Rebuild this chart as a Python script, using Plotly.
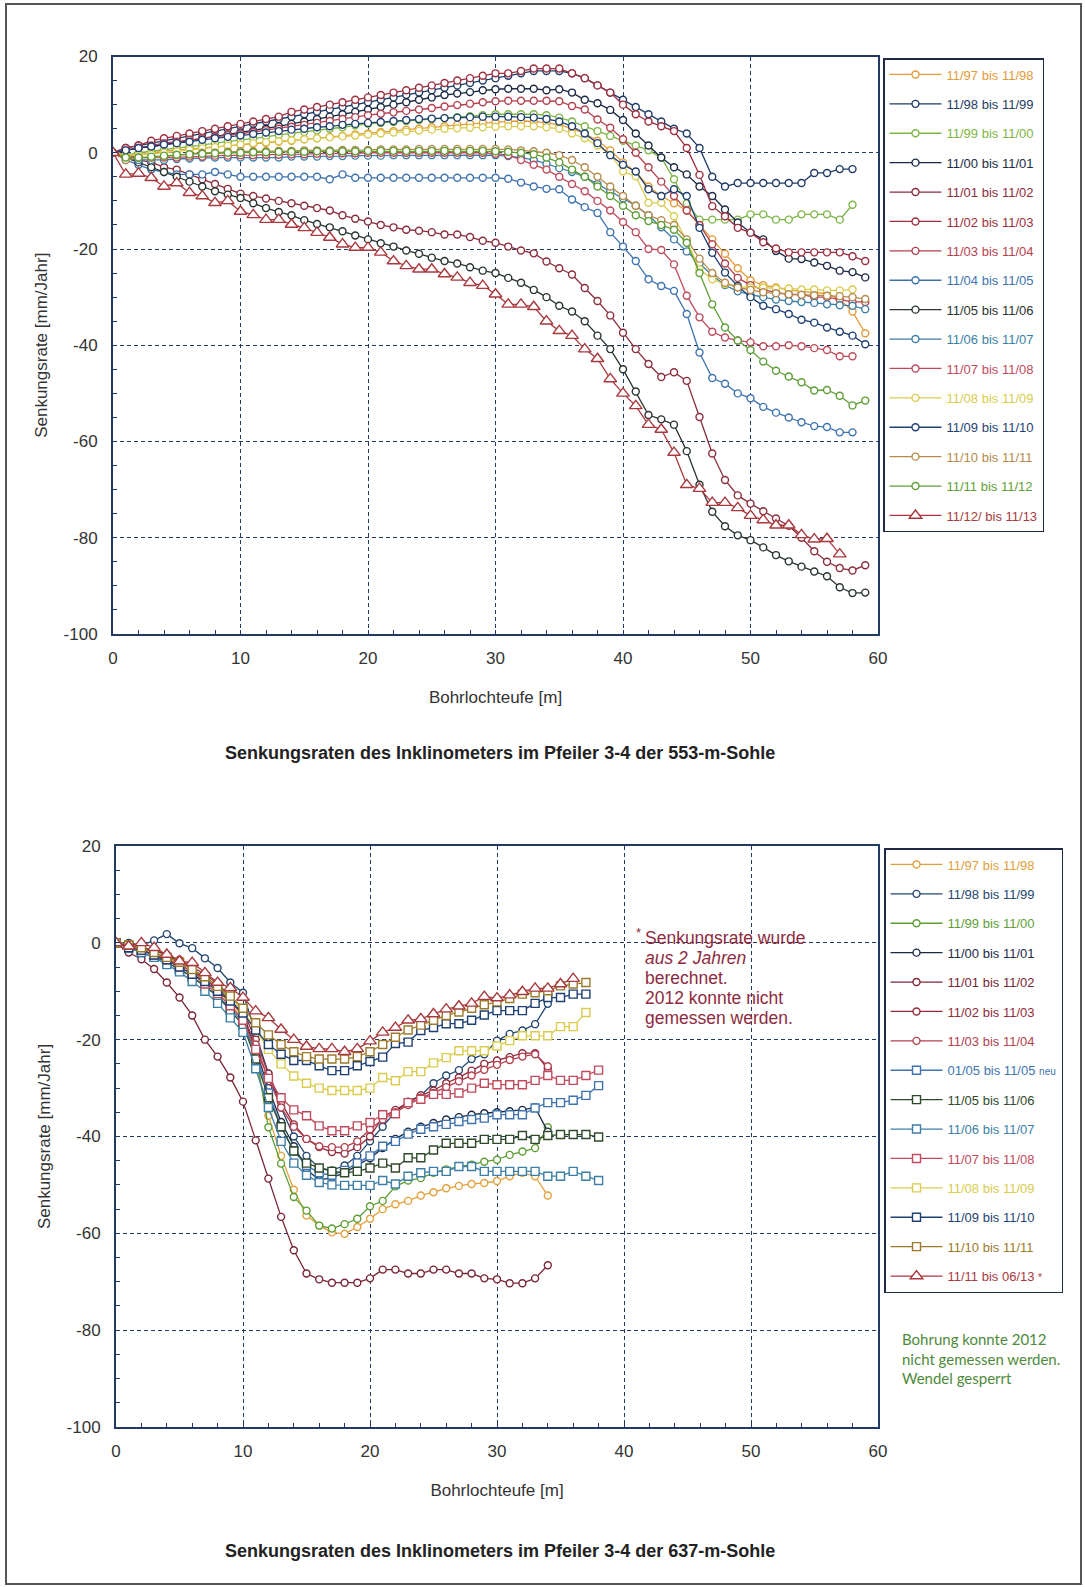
import plotly.graph_objects as go

# ---------------------------------------------------------------- data
# depth along the borehole [m], one reading per metre
DEPTH = list(range(0, 60))

# axis ticks
X_TICKS = [0, 10, 20, 30, 40, 50, 60]
Y_TICKS = [20, 0, -20, -40, -60, -80, -100]
Y_TICK_TEXT = ["20", "0", "-20", "-40", "-60", "-80", "-100"]

# 553-m-Sohle: subsidence rate [mm/Jahr] per measuring interval
LABELS_553 = ["11/97 bis 11/98", "11/98 bis 11/99", "11/99 bis 11/00", "11/00 bis 11/01",
              "11/01 bis 11/02", "11/02 bis 11/03", "11/03 bis 11/04", "11/04 bis 11/05",
              "11/05 bis 11/06", "11/06 bis 11/07", "11/07 bis 11/08", "11/08 bis 11/09",
              "11/09 bis 11/10", "11/10 bis 11/11", "11/11 bis 11/12", "11/12/ bis 11/13"]

R553_9798 = [0, -0.5, -0.5, 0, 0.3, 0.6, 0.8, 1, 1.2, 1.4, 1.6, 1.8, 2, 2.3, 2.5, 2.8, 3, 3.3, 3.5, 3.8,
             4, 4.3, 4.5, 4.8, 5, 5.3, 5.5, 5.8, 6, 6.2, 6.3, 6.5, 6.6, 6.5, 6.2, 5.8, 5, 4, 2.5, 0.5,
             -2, -4, -7, -9, -10.5, -12, -15, -18, -21, -24, -26.5, -27.5, -28, -28.5, -28.8, -29, -29.3, -30.4, -33, -37.5]
R553_9899 = [0, 1, 1.5, 2, 2.5, 3, 3.5, 4, 4.5, 5, 5.5, 6, 6.5, 7, 7.5, 8, 8.5, 9, 9.5, 10,
             10.5, 11, 11.5, 12, 12.5, 13, 13.5, 14, 14.5, 15, 15.5, 16, 16.5, 17, 17, 17, 16.5, 15.5, 14, 12.5,
             11, 9.5, 8, 6.5, 5, 4, 1, -5, -7, -6.3, -6.3, -6.3, -6.3, -6.3, -6.3, -4.2, -4.2, -3.4, -3.4]
R553_9900 = [0, -0.5, 0, 0.3, 0.6, 1, 1.3, 1.6, 2, 2.3, 2.7, 3, 3.3, 3.7, 4, 4.3, 4.6, 5, 5.3, 5.7,
             6, 6.2, 6.4, 6.6, 6.8, 7, 7.2, 7.4, 7.6, 7.8, 8, 8, 8, 8, 7.8, 7.3, 6.5, 5.5, 4.5, 3.5,
             2.5, 1.5, 0.5, -1, -5.5, -10.5, -13.9, -13.9, -13.9, -13.9, -12.8, -12.8, -13.9, -13.9, -12.8, -12.8, -12.8, -13.9, -10.8]
R553_0001 = [0, 0.5, 1, 1.3, 1.7, 2, 2.5, 3, 3.4, 3.8, 4.2, 4.6, 5, 5.5, 6, 6.5, 7, 7.5, 8, 8.5,
             9, 9.5, 10, 10.5, 11, 11.5, 12, 12.3, 12.6, 13, 13.2, 13.3, 13.3, 13.3, 13, 13.2, 12.5, 11, 10.3, 8.9,
             6.8, 4, 1.5, -1, -3, -4.5, -7, -9, -11.8, -14.5, -16.6, -18, -20.4, -22, -22.1, -22.8, -23.5, -24.5, -24.8, -25.9]
R553_0102 = [0, -1, -1.5, -2, -3, -3.5, -4.5, -5.5, -6.5, -7.5, -8.5, -9, -9.5, -10, -10.5, -11, -11.5, -12, -13, -13.7,
             -14.3, -15, -15.5, -16, -16.2, -16.5, -17, -17, -17.5, -18.3, -18.7, -19.5, -20.3, -20.9, -22.6, -24, -25.3, -28.1, -30.8, -33.8,
             -37.4, -40.8, -43.9, -46.6, -45.6, -47.4, -54.9, -62.5, -68, -71.2, -72.9, -74.5, -76, -77.5, -80, -82.8, -85, -86.3, -86.8, -85.7]
R553_0203 = [0, 1, 1.5, 2.5, 3, 3.5, 4, 4.5, 5, 5.5, 6, 6.5, 7, 7.5, 8.5, 9, 9.5, 10, 10.5, 11,
             11.5, 12, 12.5, 13, 13.5, 14, 14.5, 15, 15.5, 16, 16.5, 16.5, 17, 17.5, 17.5, 17.5, 16.5, 15.5, 14, 12.5,
             10, 8, 6.5, 5.5, 4.5, 1, -4.6, -11.1, -13.2, -15.6, -16.6, -18.6, -19.9, -20.7, -20.7, -20.7, -20.7, -20.7, -21.5, -22.5]
R553_0304 = [0, 0.5, 1, 1.5, 2, 2.3, 2.7, 3, 3.3, 3.7, 4, 4.3, 4.7, 5, 5.4, 5.8, 6.2, 6.6, 7, 7.4,
             7.8, 8.1, 8.4, 8.7, 9, 9.3, 9.6, 9.9, 10.2, 10.5, 10.7, 10.8, 10.8, 10.8, 10.8, 10.7, 9.7, 9, 6.9, 5.2,
             2.8, 0, -3, -6, -9, -12, -15, -19, -23, -26, -27.5, -28.5, -29, -29.5, -29.5, -30, -30, -30.5, -31, -31]
R553_0405 = [0, -1.5, -2.5, -3.5, -4, -4.5, -4.5, -4.5, -4, -4.5, -5, -5, -5, -5, -5, -5, -5, -5.5, -4.5, -5.2,
             -5.2, -5.2, -5.2, -5.2, -5.2, -5.2, -5.2, -5.2, -5.2, -5.2, -5.2, -5.4, -6.2, -7, -7.5, -7.6, -9.7, -11.3, -12.5, -16.5,
             -19.5, -22.5, -26.3, -27.7, -28.7, -33.5, -41.5, -46.8, -48, -50, -51, -52.8, -54, -55, -56, -56.8, -57, -58.1, -58.1]
R553_0506 = [0, -1, -2, -3, -4, -5, -6, -7, -8, -8.7, -9.4, -10.5, -11.5, -12.3, -13, -14, -14.8, -15.5, -16.3, -17.2,
             -18, -18.8, -19.5, -20.3, -21, -21.8, -22.5, -23, -23.8, -24.5, -25, -26, -27, -28.5, -30, -31.8, -33, -35, -38, -40.8,
             -45, -49.6, -54.5, -55.4, -56.5, -62, -69, -74.6, -77.6, -79.5, -80.5, -82, -83.6, -84.9, -86, -87, -88, -90.3, -91.5, -91.4]
R553_0607 = [0, -1, -1.5, -1.5, -1.5, -1.3, -1.2, -1, -1, -1, -1, -1, -1, -1, -0.8, -0.8, -0.8, -0.7, -0.7, -0.6,
             -0.6, -0.6, -0.5, -0.5, -0.5, -0.5, -0.5, -0.5, -0.5, -0.5, -0.5, -0.7, -1, -1.5, -2.3, -3.2, -4, -5, -6.5, -8,
             -9.5, -11, -13, -15.5, -18, -20.5, -23, -25.5, -27.5, -28.8, -29.5, -30, -30.5, -30.8, -31, -31.2, -31.5, -31.7, -31.8, -32.5]
R553_0708 = [0, -0.5, -1, -1, -1, -1, -0.8, -0.8, -0.6, -0.6, -0.5, -0.5, -0.4, -0.4, -0.3, -0.3, -0.2, -0.2, -0.1, -0.1,
             0, 0, 0, 0, 0, 0, 0, 0, 0, 0, -0.2, -0.5, -1.5, -2.5, -3.5, -5, -6.5, -8, -10, -12,
             -14.4, -16.5, -20, -20.2, -23.2, -29.7, -34.2, -37.2, -38.4, -39, -39.4, -40.2, -40.2, -40, -40.2, -40.6, -41, -42.3, -42.3]
R553_0809 = [0, -0.5, -0.5, -0.3, 0, 0.3, 0.6, 0.9, 1.2, 1.5, 1.7, 2, 2.2, 2.4, 2.6, 2.8, 3, 3.2, 3.4, 3.6,
             3.8, 4, 4.2, 4.4, 4.6, 4.8, 5, 5.1, 5.2, 5.3, 5.4, 5.5, 5.5, 5.5, 5.3, 5, 4, 3, 1.5, -0.4,
             -3.9, -4.9, -10.4, -10.4, -13.2, -18.4, -24.2, -26.3, -27.3, -27.8, -28, -28, -28.2, -28.2, -28.4, -28.4, -28.6, -28.6, -28.4]
R553_0910 = [0, 0.5, 1, 1.3, 1.7, 2, 2.3, 2.7, 3, 3.3, 3.6, 3.9, 4.2, 4.5, 4.8, 5, 5.3, 5.5, 5.8, 6,
             6.2, 6.4, 6.6, 6.8, 7, 7.1, 7.2, 7.3, 7.4, 7.5, 7.5, 7.5, 7.4, 7.3, 7, 6.5, 5.5, 4, 2, -0.5,
             -2.5, -3.9, -7.6, -9, -7.6, -9, -15.6, -20.8, -24.9, -27.7, -30, -31.8, -32.5, -33.5, -34.7, -35.3, -36.3, -37.2, -38, -39.8]
R553_1011 = [0, -1.5, -1, -1, -0.8, -0.5, -0.3, 0, 0, 0.2, 0.3, 0.3, 0.3, 0.4, 0.4, 0.5, 0.5, 0.5, 0.6, 0.6,
             0.6, 0.7, 0.7, 0.7, 0.8, 0.8, 0.8, 0.8, 0.8, 0.8, 0.8, 0.7, 0.5, 0.3, 0, -0.5, -1.5, -3, -5, -7,
             -9, -11, -13, -14, -15, -18, -22, -25, -27, -28, -28.5, -29, -29.2, -29.4, -29.5, -29.6, -29.7, -29.8, -30, -30.4]
R553_1112 = [0, -1, -1, -0.8, -0.6, -0.4, -0.3, -0.2, -0.1, 0, 0, 0.1, 0.1, 0.2, 0.2, 0.2, 0.3, 0.3, 0.3, 0.3,
             0.4, 0.4, 0.4, 0.4, 0.4, 0.4, 0.4, 0.4, 0.4, 0.4, 0.3, 0.2, 0, -0.3, -1, -2, -3.5, -5, -7, -9,
             -11, -13, -14.2, -15, -16, -18.7, -25, -31.5, -36.3, -39, -41, -43.4, -45.3, -46.5, -47.7, -49.4, -49.3, -50.5, -52.5, -51.5]
R553_1213 = [0, -4.5, -4.3, -5.2, -7, -6.3, -8.3, -9, -10.4, -10, -12.2, -12.9, -13.9, -13.9, -14.9, -15.6, -16.6, -17.6, -19, -19.7,
             -19.7, -20.7, -22.5, -23.5, -24.2, -24.2, -25.2, -25.9, -27, -27.6, -29.4, -31.5, -31.5, -32, -35, -37, -38, -40.8, -42.8, -47,
             -50, -52.6, -56.5, -57.5, -62.3, -69, -69.8, -72.7, -72.7, -73.8, -75.4, -76.3, -77.4, -77.4, -79.4, -80.3, -80.2, -83.4]

# 637-m-Sohle
LABELS_637 = ["11/97 bis 11/98", "11/98 bis 11/99", "11/99 bis 11/00", "11/00 bis 11/01",
              "11/01 bis 11/02", "11/02 bis 11/03", "11/03 bis 11/04", "01/05 bis 11/05",
              "11/05 bis 11/06", "11/06 bis 11/07", "11/07 bis 11/08", "11/08 bis 11/09",
              "11/09 bis 11/10", "11/10 bis 11/11", "11/11 bis 06/13"]

R637_9798 = [0, -0.5, -1, -2, -3, -4.5, -6, -8, -10, -12.5, -16, -24, -35.7, -44, -51, -56.3, -58.4, -59.8, -60.1, -58.7,
             -57, -55, -54, -53.3, -52.2, -51.5, -50.7, -50.2, -49.8, -49.6, -49.2, -48.2, -47.5, -48.2, -52.2]
R637_9899 = [0, 0, -0.5, 0.5, 1.8, -0.1, -1.1, -3.2, -5.2, -8.2, -10.3, -18.8, -27, -34, -40, -44, -46.5, -47, -46, -44,
             -41, -38, -34.9, -32.8, -31.5, -29, -27.4, -26.3, -24, -23, -20.2, -18.8, -18.1, -16.8, -12.6]
R637_9900 = [0, -0.5, -1, -2, -3, -4, -5.5, -7, -9, -11.5, -15, -23, -38.1, -45.6, -52.5, -55.3, -58.4, -59, -58.1, -57,
             -54.4, -53.3, -50.3, -49.1, -48.6, -47.5, -46.8, -46.2, -45.8, -45.2, -44.8, -43.8, -43.1, -42.4, -38.1]
R637_0001 = [0, -0.5, -1, -1.5, -2.5, -4, -5.5, -7.5, -9.5, -12, -15, -22, -30, -37, -42, -46.8, -49, -48.5, -47.5, -45.9,
             -44.5, -42.4, -40.5, -39, -38, -37.2, -36.5, -36, -35.5, -35.2, -35, -34.8, -34.5, -34, -39]
R637_0102 = [0, -2, -3.4, -5.4, -8.2, -11.3, -15, -20, -23.5, -27.8, -32.8, -40.8, -48.7, -56.6, -63.5, -68.3, -69.5, -70.2, -70.2, -70.2,
             -69.3, -67.5, -67.5, -68.3, -68.3, -67.5, -67.5, -68.3, -68.3, -69.3, -69.5, -70.3, -70.3, -69.3, -66.6]
R637_0203 = [0, -0.5, -1, -1.5, -2.5, -3.5, -5, -6.5, -8.5, -11, -14, -20, -27, -33, -37.5, -40.5, -42.2, -43.2, -43.5, -42.2,
             -40, -36, -34.5, -33, -31.5, -30.5, -29, -27.8, -26.4, -25, -24.3, -23.6, -22.8, -22.8, -26]
R637_0304 = [0, -0.5, -1.5, -2.5, -3.5, -4.5, -6, -7.5, -9.5, -12, -15, -21, -28, -34, -38, -40.5, -42, -42.2, -42.2, -41,
             -38.5, -36.5, -35, -33.5, -32, -31, -29.8, -28.6, -27.4, -26.2, -25.2, -24.2, -23.5, -23, -25.5]
R637_0505 = [0, -1, -2, -3, -4, -5.5, -7, -9, -11, -13.5, -16.5, -23, -31, -38, -43, -46, -47.5, -48, -47, -45.5,
             -44, -42, -41, -39.5, -38.5, -38, -37.5, -36.9, -36.5, -36.2, -35.5, -35.5, -35.5, -34.1, -33, -33, -32.5, -31.5, -29.5]
R637_0506 = [0, -0.5, -1.5, -2.5, -4, -5.5, -7, -9, -11, -14, -17, -24, -32, -38, -43, -45.5, -46.5, -47.2, -47.5, -47.2,
             -46.5, -45.5, -46.5, -44.4, -44.4, -42.8, -41.4, -41.4, -41.4, -40.6, -40.6, -40.6, -39.8, -40.6, -39.8, -39.6, -39.6, -39.6, -40.1]
R637_0607 = [0, -1, -2, -3, -4.5, -6, -8, -10, -12.5, -15.5, -18.5, -26, -34, -41, -45.5, -48, -49.5, -50, -50.1, -50.1,
             -50.1, -49.1, -49.8, -48.2, -47.5, -47.2, -47.2, -46.2, -46.2, -47.2, -47.2, -47.2, -47.2, -47.2, -48.2, -48.2, -47.2, -48.2, -49.1]
R637_0708 = [0, -0.5, -1.5, -2.5, -3.5, -5, -6.5, -8.5, -10.5, -13, -16, -22, -28, -32, -34.5, -35.7, -37.8, -38.8, -38.8, -37.8,
             -37.1, -35.5, -35.3, -33, -32.3, -31.3, -31.3, -31, -30, -29, -29.3, -29.3, -29.3, -28.4, -27.4, -28.4, -28.4, -27.4, -26.3]
R637_0809 = [0, -0.5, -1, -2, -3, -4, -5.5, -7, -9, -11, -14, -18, -22, -25, -27.5, -29, -30, -30.5, -30.5, -30.5,
             -30, -27.8, -28.5, -26.6, -26.6, -24.8, -23.7, -22.3, -22.3, -22.3, -21.3, -20.2, -19.2, -19.2, -19.2, -17.3, -17.3, -14.4]
R637_0910 = [0, -1, -1.5, -2.5, -3.5, -5, -6.5, -8, -10, -12, -14.5, -18, -21, -23, -24.3, -24.3, -25.4, -26.4, -26.4, -25.4,
             -24.5, -23.6, -20.8, -20.5, -18.1, -17.5, -16.7, -16.7, -16, -14.9, -14, -14, -14, -12.5, -11.3, -11.3, -10.6, -10.6]
R637_1011 = [0, -0.5, -1, -2, -3, -4, -5.5, -7, -9, -11, -13.5, -16.5, -19, -21, -22.5, -23.5, -24, -24, -24, -23.5,
             -22.5, -21, -19.5, -18, -17, -16, -15, -14.3, -13.5, -12.8, -12.2, -11.5, -10.6, -10.3, -9.9, -8.9, -8.5, -8.2]
R637_1113 = [0, -0.7, 0, -1, -2.4, -3.8, -4.1, -6.2, -8.2, -9.3, -11.3, -14.1, -15.5, -17.9, -20, -21.4, -21.9, -21.9, -22.5, -21.9,
             -20.3, -18.5, -17.5, -16, -15.7, -14.7, -13.7, -13.1, -12.5, -11.1, -11.4, -10.8, -10.1, -9.4, -9.4, -8.5, -7.4]

# ---------------------------------------------------------------- styles
COL_553 = ["#E39B3A", "#1F3B66", "#7DB544", "#1B2A44", "#8C2D3C", "#9E2E3E", "#B5404F", "#3E73B0",
           "#28342E", "#3C7FA6", "#C04B5C", "#D9CB4E", "#1E3F73", "#B58A4A", "#5E9E35", "#A8393E"]
SYM_553 = ["circle"] * 15 + ["triangle-up"]

COL_637 = ["#E2A03A", "#24466F", "#5E9E35", "#1B2A44", "#7A2536", "#8F2B3B", "#B5404F", "#3E73B0",
           "#2F4A2A", "#3C7FA6", "#C04B5C", "#D9CB4E", "#1E3F73", "#9C7A2A", "#A8393E"]
SYM_637 = ["circle"] * 7 + ["square"] * 7 + ["triangle-up"]

SERIES_553 = [R553_9798, R553_9899, R553_9900, R553_0001, R553_0102, R553_0203, R553_0304, R553_0405,
              R553_0506, R553_0607, R553_0708, R553_0809, R553_0910, R553_1011, R553_1112, R553_1213]
SERIES_637 = [R637_9798, R637_9899, R637_9900, R637_0001, R637_0102, R637_0203, R637_0304, R637_0505,
              R637_0506, R637_0607, R637_0708, R637_0809, R637_0910, R637_1011, R637_1113]

W, H = 1085, 1587
FONT = "Liberation Sans, Arial, sans-serif"
NAVY = "#223A63"
NOTE_RED = "#8E2B3F"


def fx(p):
    return p / W


def fy(p):
    return 1 - p / H


def legend_name(label, color, extra=""):
    return f'<span style="color:{color}">{label}</span>{extra}'


def marker_size(sym):
    if sym.startswith("triangle"):
        return 11
    return 8 if sym == "square" else 7


fig = go.Figure()

for i, (vals, lab, col, sym) in enumerate(zip(SERIES_553, LABELS_553, COL_553, SYM_553)):
    fig.add_trace(go.Scatter(
        x=DEPTH[:len(vals)], y=vals, mode="lines+markers",
        name=legend_name(lab, col), legendgroup=f"a{i}", legend="legend",
        line=dict(color=col, width=1.3),
        marker=dict(symbol=sym, size=marker_size(sym), color="white",
                    line=dict(color=col, width=1.4)),
        xaxis="x", yaxis="y"))

for i, (vals, lab, col, sym) in enumerate(zip(SERIES_637, LABELS_637, COL_637, SYM_637)):
    extra = ""
    if lab.startswith("01/05"):
        extra = f' <span style="color:{col};font-size:10px">neu</span>'
    if lab.endswith("06/13"):
        extra = f' <span style="color:{col};font-size:10px">*</span>'
    fig.add_trace(go.Scatter(
        x=DEPTH[:len(vals)], y=vals, mode="lines+markers",
        name=legend_name(lab, col, extra), legendgroup=f"b{i}", legend="legend2",
        line=dict(color=col, width=1.3),
        marker=dict(symbol=sym, size=marker_size(sym), color="white",
                    line=dict(color=col, width=1.4)),
        xaxis="x2", yaxis="y2"))

TICKFONT = dict(family=FONT, size=17, color="#333333")


def xaxis_style(dom, anchor):
    return dict(domain=dom, anchor=anchor, range=[0, 60],
                tickmode="array", tickvals=X_TICKS, ticktext=[str(v) for v in X_TICKS],
                showline=True, mirror=True, linecolor=NAVY, linewidth=2,
                showgrid=True, gridcolor=NAVY, gridwidth=1, griddash="4px,3px",
                zeroline=False, ticks="inside", ticklen=4, tickcolor=NAVY,
                minor=dict(dtick=2, tick0=0, ticks="inside", ticklen=4, tickcolor=NAVY, showgrid=False),
                tickfont=TICKFONT, ticklabelstandoff=8,
                title=dict(text="Bohrlochteufe [m]", font=dict(family=FONT, size=17, color="#333333"), standoff=24))


def yaxis_style(dom, anchor):
    return dict(domain=dom, anchor=anchor, range=[-100, 20],
                tickmode="array", tickvals=Y_TICKS, ticktext=Y_TICK_TEXT,
                showline=True, mirror=True, linecolor=NAVY, linewidth=2,
                showgrid=True, gridcolor=NAVY, gridwidth=1, griddash="4px,3px",
                zeroline=False, ticks="inside", ticklen=4, tickcolor=NAVY,
                minor=dict(dtick=5, tick0=0, ticks="inside", ticklen=4, tickcolor=NAVY, showgrid=False),
                tickfont=TICKFONT, ticklabelstandoff=10,
                title=dict(text="Senkungsrate [mm/Jahr]", font=dict(family=FONT, size=17, color="#333333"), standoff=12))


legend_common = dict(xanchor="left", yanchor="top", bgcolor="white", bordercolor="#1F2A44",
                     borderwidth=1.5, font=dict(family=FONT, size=13, color="#333333"),
                     traceorder="grouped", tracegroupgap=9.5, itemwidth=52)

fig.update_layout(
    width=W, height=H, margin=dict(l=0, r=0, t=0, b=0, autoexpand=False),
    paper_bgcolor="white", plot_bgcolor="white",
    xaxis=xaxis_style([fx(113), fx(878)], "y"),
    yaxis=yaxis_style([fy(634), fy(56.5)], "x"),
    xaxis2=xaxis_style([fx(116), fx(878)], "y2"),
    yaxis2=yaxis_style([fy(1427), fy(846)], "x2"),
    legend=dict(x=fx(883), y=fy(58), **legend_common),
    legend2=dict(x=fx(884), y=fy(848), **legend_common),
)

titles = [("Senkungsraten des Inklinometers im Pfeiler 3-4 der 553-m-Sohle", 753),
          ("Senkungsraten des Inklinometers im Pfeiler 3-4 der 637-m-Sohle", 1551)]
for txt, ypx in titles:
    fig.add_annotation(text=f"<b>{txt}</b>", xref="paper", yref="paper", x=fx(500), y=fy(ypx),
                       showarrow=False, xanchor="center", yanchor="middle",
                       font=dict(family=FONT, size=18, color="#222222"))

# note on the 637-m-Sohle interval 11/11 bis 06/13
NOTE_LINES = ["Senkungsrate wurde", "<i>aus 2 Jahren</i>", "berechnet.", "2012 konnte nicht", "gemessen werden."]
NOTE_Y = [938, 958, 978, 998, 1018]
fig.add_annotation(text="*", xref="paper", yref="paper", x=fx(634), y=fy(933),
                   showarrow=False, xanchor="left", yanchor="middle",
                   font=dict(family=FONT, size=13, color=NOTE_RED))
for line, ypx in zip(NOTE_LINES, NOTE_Y):
    fig.add_annotation(text=line, xref="paper", yref="paper", x=fx(643), y=fy(ypx), align="left",
                       showarrow=False, xanchor="left", yanchor="middle",
                       font=dict(family=FONT, size=17.5, color=NOTE_RED))

fig.add_annotation(text="Bohrung konnte 2012<br>nicht gemessen werden.<br>Wendel gesperrt",
                   xref="paper", yref="paper", x=fx(900), y=fy(1358), align="left",
                   showarrow=False, xanchor="left", yanchor="middle",
                   font=dict(family="Lato, Open Sans, sans-serif", size=15, color="#4E8A3A"))

# page frame
fig.add_shape(type="rect", xref="paper", yref="paper", x0=fx(6), x1=fx(1081), y0=fy(1584), y1=fy(4),
              line=dict(color="#555555", width=2), layer="below")

fig.write_html("out.html")
